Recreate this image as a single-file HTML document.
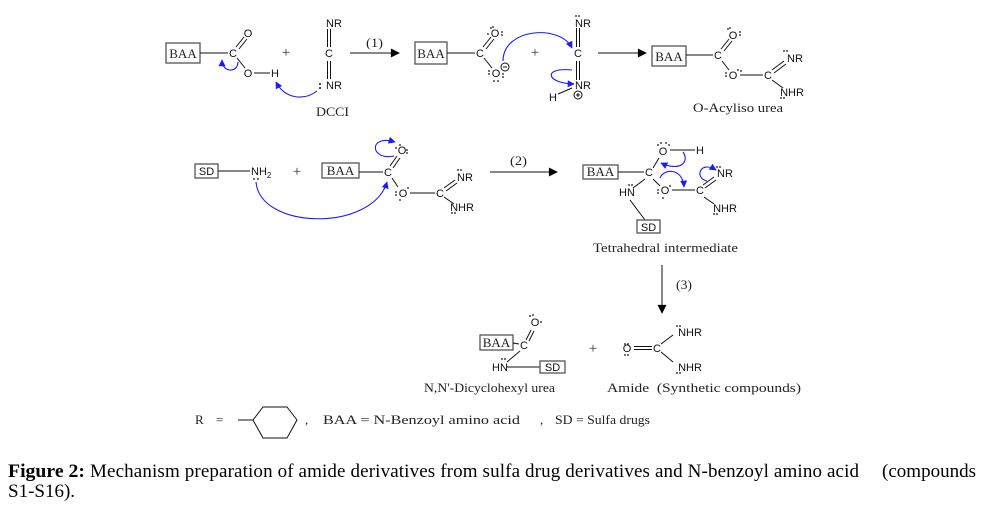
<!DOCTYPE html>
<html><head><meta charset="utf-8"><style>
html,body{margin:0;padding:0;background:#fff;}
svg{display:block;}
.s{font-family:"Liberation Sans",sans-serif;font-size:11px;fill:#111;}
.r{font-family:"Liberation Serif",serif;font-size:13px;fill:#222;}
.l{font-family:"Liberation Serif",serif;font-size:13px;fill:#222;}
.c{font-family:"Liberation Serif",serif;font-size:19px;fill:#000;}
</style></head><body>
<svg width="994" height="515" viewBox="0 0 994 515" xmlns="http://www.w3.org/2000/svg">
<defs>
<marker id="ak" viewBox="0 0 10 10" refX="9" refY="5" markerWidth="11" markerHeight="9" markerUnits="userSpaceOnUse" orient="auto"><path d="M0,0 L10,5 L0,10 z" fill="#000"/></marker>
<marker id="abl" viewBox="0 0 10 10" refX="9" refY="5" markerWidth="8" markerHeight="7" markerUnits="userSpaceOnUse" orient="auto"><path d="M0,0 L10,5 L0,10 z" fill="#1a1aff"/></marker>
</defs>
<rect width="994" height="515" fill="#fff"/>
<g stroke="#111" stroke-width="1" fill="none">
<!-- Row 1 reactant -->
<rect x="166" y="43" width="34" height="20" stroke="#555" stroke-width="1.3"/>
<line x1="200" y1="53" x2="228" y2="53"/>
<line x1="236" y1="47" x2="244" y2="37"/><line x1="239" y1="49" x2="247" y2="39"/>
<line x1="237" y1="58" x2="245" y2="68"/>
<line x1="254" y1="73" x2="270" y2="73"/>
<!-- DCCI -->
<line x1="327.5" y1="29" x2="327.5" y2="47"/><line x1="330.5" y1="29" x2="330.5" y2="47"/>
<line x1="327.5" y1="61" x2="327.5" y2="79"/><line x1="330.5" y1="61" x2="330.5" y2="79"/>
<line x1="350" y1="53" x2="399" y2="53" marker-end="url(#ak)"/>
<!-- intermediate -->
<rect x="415" y="42" width="32" height="22" stroke="#555" stroke-width="1.3"/>
<line x1="447" y1="53" x2="475" y2="53"/>
<line x1="483" y1="47" x2="491" y2="37"/><line x1="486" y1="49" x2="494" y2="39"/>
<line x1="484" y1="58" x2="492" y2="68"/>
<circle cx="505" cy="67" r="4"/><line x1="503" y1="67" x2="507" y2="67"/>
<line x1="576.5" y1="28" x2="576.5" y2="47"/><line x1="579.5" y1="28" x2="579.5" y2="47"/>
<line x1="576.5" y1="61" x2="576.5" y2="80"/><line x1="579.5" y1="61" x2="579.5" y2="80"/>
<circle cx="578" cy="95" r="4"/><line x1="576" y1="95" x2="580" y2="95"/><line x1="578" y1="93" x2="578" y2="97"/>
<line x1="558" y1="94" x2="572" y2="88"/>
<line x1="598" y1="53" x2="646" y2="53" marker-end="url(#ak)"/>
<!-- O-acyl isourea -->
<rect x="652" y="46" width="34" height="20" stroke="#555" stroke-width="1.3"/>
<line x1="686" y1="55" x2="713" y2="55"/>
<line x1="721" y1="49" x2="729" y2="39"/><line x1="724" y1="51" x2="732" y2="41"/>
<line x1="722" y1="61" x2="729" y2="70"/>
<line x1="740" y1="75" x2="763" y2="75"/>
<line x1="772" y1="70" x2="784" y2="61"/><line x1="774" y1="73" x2="786" y2="64"/>
<line x1="772" y1="80" x2="783" y2="88"/>
<!-- Row 2 -->
<rect x="195" y="164" width="23" height="14" stroke="#555" stroke-width="1.3"/>
<line x1="218" y1="171" x2="250" y2="171"/>
<rect x="322" y="163" width="37" height="15" stroke="#555" stroke-width="1.3"/>
<line x1="359" y1="172" x2="383" y2="172"/>
<line x1="390" y1="166" x2="397" y2="156"/><line x1="393" y1="168" x2="400" y2="158"/>
<line x1="392" y1="178" x2="398" y2="187"/>
<line x1="410" y1="193" x2="435" y2="193"/>
<line x1="444" y1="188" x2="455" y2="180"/><line x1="446" y1="191" x2="457" y2="183"/>
<line x1="444" y1="197" x2="454" y2="204"/>
<line x1="490" y1="172" x2="557" y2="172" marker-end="url(#ak)"/>
<!-- tetrahedral -->
<rect x="583" y="165" width="35" height="14" stroke="#555" stroke-width="1.3"/>
<line x1="618" y1="172" x2="644" y2="172"/>
<line x1="653" y1="168" x2="659" y2="158"/>
<line x1="670" y1="150" x2="695" y2="150"/>
<line x1="645" y1="179" x2="633" y2="188"/>
<line x1="630" y1="200" x2="645" y2="220"/>
<rect x="637" y="220" width="23" height="13" stroke="#555" stroke-width="1.3"/>
<line x1="653" y1="179" x2="660" y2="186"/>
<line x1="672" y1="190" x2="695" y2="190"/>
<line x1="703" y1="185" x2="714" y2="177"/><line x1="705" y1="188" x2="716" y2="180"/>
<line x1="704" y1="197" x2="714" y2="204"/>
<line x1="662" y1="265" x2="662" y2="313" marker-end="url(#ak)"/>
<!-- bottom products -->
<rect x="480" y="335" width="33" height="15" stroke="#555" stroke-width="1.3"/>
<line x1="513" y1="343" x2="519" y2="344"/>
<line x1="526" y1="340" x2="531" y2="330"/><line x1="529" y1="341" x2="534" y2="331"/>
<line x1="520" y1="351" x2="507" y2="362"/>
<line x1="507" y1="367" x2="540" y2="367"/>
<rect x="540" y="361" width="25" height="12" stroke="#555" stroke-width="1.3"/>
<line x1="634" y1="346.5" x2="652" y2="346.5"/><line x1="634" y1="349.5" x2="652" y2="349.5"/>
<line x1="661" y1="344" x2="673" y2="335"/>
<line x1="661" y1="352" x2="673" y2="362"/>
<!-- legend hexagon -->
<line x1="238" y1="420" x2="253" y2="420"/>
<polygon points="253,420 263,407 287,407 297,420 287,438 263,438"/>
</g>
<!-- blue arrows -->
<g stroke="#1a1aff" stroke-width="1.1" fill="none">
<path d="M238,62 C238,73 222,73 222,60" marker-end="url(#abl)"/>
<path d="M317,91 C304,101 285,99 276,82" marker-end="url(#abl)"/>
<path d="M503,61 C503,28 560,24 572,48" marker-end="url(#abl)"/>
<path d="M572,70 C543,67 545,83 574,84" marker-end="url(#abl)"/>
<path d="M394,156 C370,161 368,134 395,142" marker-end="url(#abl)"/>
<path d="M256,182 C260,230 372,232 387,182" marker-end="url(#abl)"/>
<path d="M683,152 C690,162 680,172 661,163" marker-end="url(#abl)"/>
<path d="M660,178 C664,168 683,168 684,187" marker-end="url(#abl)"/>
<path d="M707,181 C694,178 700,160 716,170" marker-end="url(#abl)"/>
</g>
<!-- atom labels -->
<g class="s" text-anchor="middle">
<text x="233" y="57">C</text><text x="248" y="37">O</text><text x="248" y="77">O</text><text x="275" y="77">H</text>
<text x="334" y="27">NR</text><text x="329" y="57">C</text><text x="334" y="89">NR</text>
<text x="480" y="57">C</text><text x="495" y="37">O</text><text x="496" y="77">O</text>
<text x="583" y="27">NR</text><text x="578" y="57">C</text><text x="583" y="89">NR</text><text x="553" y="101">H</text>
<text x="718" y="59">C</text><text x="733" y="39">O</text><text x="733" y="79">O</text><text x="768" y="79">C</text>
<text x="795" y="62">NR</text><text x="792" y="96">NHR</text>
<text x="206.5" y="175">SD</text>
<text x="388" y="176">C</text><text x="402" y="154">O</text><text x="403" y="197">O</text><text x="440" y="197">C</text>
<text x="465" y="181">NR</text><text x="462" y="211">NHR</text>
<text x="649" y="176">C</text><text x="663" y="155">O</text><text x="700" y="154">H</text><text x="627" y="196">HN</text>
<text x="648.5" y="231">SD</text><text x="665" y="194">O</text><text x="700" y="194">C</text>
<text x="725" y="177">NR</text><text x="725" y="212">NHR</text>
<text x="524" y="349">C</text><text x="535" y="326">O</text><text x="500" y="371">HN</text><text x="552.5" y="371">SD</text>
<text x="627" y="352">O</text><text x="657" y="352">C</text><text x="690" y="336">NHR</text><text x="690" y="371">NHR</text>
</g>
<text class="s" x="251" y="175">NH<tspan font-size="8" dy="3">2</tspan></text>
<!-- lone pair dots -->
<g fill="#111">
<circle cx="320" cy="84" r="1"/><circle cx="320" cy="88" r="1"/>
<circle cx="491" cy="28" r="0.9"/><circle cx="493" cy="27" r="0.9"/><circle cx="502" cy="32" r="0.9"/><circle cx="502" cy="35" r="0.9"/><circle cx="488" cy="34" r="0.9"/>
<circle cx="489" cy="71" r="0.9"/><circle cx="489" cy="74" r="0.9"/><circle cx="494" cy="81" r="0.9"/><circle cx="498" cy="81" r="0.9"/><circle cx="503" cy="77" r="0.9"/><circle cx="503" cy="74" r="0.9"/>
<circle cx="576" cy="16" r="0.9"/><circle cx="579" cy="16" r="0.9"/>
<circle cx="728" cy="29" r="0.9"/><circle cx="730" cy="28" r="0.9"/><circle cx="740" cy="32" r="0.9"/><circle cx="740" cy="35" r="0.9"/>
<circle cx="726" cy="73" r="0.9"/><circle cx="726" cy="76" r="0.9"/><circle cx="738" cy="70" r="0.9"/><circle cx="741" cy="71" r="0.9"/>
<circle cx="784" cy="51" r="0.9"/><circle cx="787" cy="51" r="0.9"/>
<circle cx="781" cy="98" r="0.9"/><circle cx="784" cy="98" r="0.9"/>
<circle cx="254" cy="179" r="0.9"/><circle cx="258" cy="179" r="0.9"/>
<circle cx="396" cy="148" r="0.9"/><circle cx="407" cy="150" r="0.9"/><circle cx="407" cy="153" r="0.9"/><circle cx="400" cy="145" r="0.9"/>
<circle cx="396" cy="192" r="0.9"/><circle cx="396" cy="195" r="0.9"/><circle cx="408" cy="188" r="0.9"/><circle cx="400" cy="200" r="0.9"/>
<circle cx="458" cy="170" r="0.9"/><circle cx="461" cy="170" r="0.9"/>
<circle cx="452" cy="213" r="0.9"/><circle cx="455" cy="213" r="0.9"/>
<circle cx="658" cy="145" r="0.9"/><circle cx="661" cy="143" r="0.9"/><circle cx="666" cy="143" r="0.9"/><circle cx="669" cy="145" r="0.9"/>
<circle cx="629" cy="185" r="0.9"/><circle cx="632" cy="185" r="0.9"/>
<circle cx="658" cy="190" r="0.9"/><circle cx="658" cy="193" r="0.9"/><circle cx="663" cy="198" r="0.9"/><circle cx="670" cy="186" r="0.9"/>
<circle cx="717" cy="167" r="0.9"/><circle cx="720" cy="167" r="0.9"/>
<circle cx="714" cy="214" r="0.9"/><circle cx="717" cy="214" r="0.9"/>
<circle cx="530" cy="316" r="0.9"/><circle cx="533" cy="315" r="0.9"/><circle cx="541" cy="322" r="0.9"/>
<circle cx="502" cy="359" r="0.9"/><circle cx="505" cy="359" r="0.9"/>
<circle cx="625" cy="344" r="0.9"/><circle cx="628" cy="344" r="0.9"/><circle cx="625" cy="355" r="0.9"/><circle cx="628" cy="355" r="0.9"/>
<circle cx="677" cy="326" r="0.9"/><circle cx="680" cy="326" r="0.9"/>
<circle cx="677" cy="373" r="0.9"/><circle cx="680" cy="373" r="0.9"/>
</g>
<!-- BAA labels -->
<g class="r" text-anchor="middle">
<text x="183" y="58">BAA</text><text x="431" y="58">BAA</text><text x="669" y="61">BAA</text>
<text x="340.5" y="175">BAA</text><text x="600.5" y="176">BAA</text><text x="496.5" y="347">BAA</text>
</g>
<g font-family="Liberation Serif, serif" font-size="15" fill="#333" text-anchor="middle">
<text x="286" y="57">+</text><text x="535" y="57">+</text><text x="297" y="176">+</text><text x="593" y="353">+</text>
</g>
<g class="l">
<text x="366" y="47" textLength="17" lengthAdjust="spacingAndGlyphs">(1)</text>
<text x="316" y="116" textLength="33" lengthAdjust="spacingAndGlyphs">DCCI</text>
<text x="693" y="112" textLength="90" lengthAdjust="spacingAndGlyphs">O-Acyliso urea</text>
<text x="510" y="165" textLength="17" lengthAdjust="spacingAndGlyphs">(2)</text>
<text x="593" y="252" textLength="145" lengthAdjust="spacingAndGlyphs">Tetrahedral intermediate</text>
<text x="676" y="289" textLength="16" lengthAdjust="spacingAndGlyphs">(3)</text>
<text x="424" y="392" textLength="131" lengthAdjust="spacingAndGlyphs">N,N'-Dicyclohexyl urea</text>
<text x="607" y="392" xml:space="preserve" textLength="194" lengthAdjust="spacingAndGlyphs">Amide  (Synthetic compounds)</text>
</g>
<text class="r" x="195" y="424">R</text>
<text class="r" x="216" y="424">=</text>
<text class="r" x="305" y="424">,</text>
<text class="l" x="323" y="424" textLength="197" lengthAdjust="spacingAndGlyphs">BAA = N-Benzoyl amino acid</text>
<text class="r" x="540" y="424">,</text>
<text class="l" x="555" y="424" textLength="95" lengthAdjust="spacingAndGlyphs">SD = Sulfa drugs</text>
<!-- caption -->
<text class="c" x="8" y="477" font-weight="bold" textLength="77" lengthAdjust="spacingAndGlyphs">Figure 2:</text>
<text class="c" x="90" y="477" textLength="769" lengthAdjust="spacing">Mechanism preparation of amide derivatives from sulfa drug derivatives and N-benzoyl amino acid</text>
<text class="c" x="882" y="477" textLength="94" lengthAdjust="spacing">(compounds</text>
<text class="c" x="8" y="497">S1-S16).</text>
</svg>
</body></html>
